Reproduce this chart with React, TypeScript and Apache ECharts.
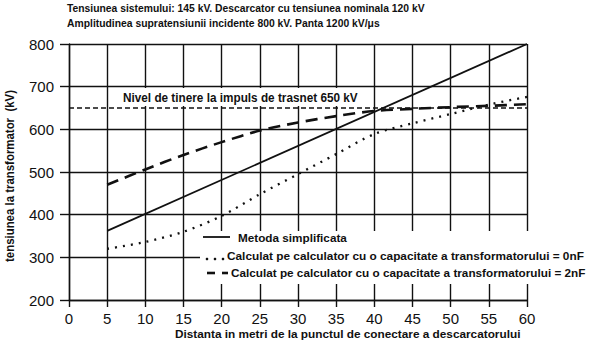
import React, { useEffect, useRef } from "react";
import * as echarts from "echarts";

const titleLines = [
  "Tensiunea sistemului: 145 kV. Descarcator cu tensiunea nominala 120 kV",
  "Amplitudinea supratensiunii incidente 800 kV. Panta 1200 kV/μs",
];
const xTicks = { min: 0, max: 60, interval: 5 };
const yTicks = { min: 200, max: 800, interval: 100 };
const xName = "Distanta in metri de la punctul de conectare a descarcatorului";
const yName = "tensiunea la transformator  (kV)";

const seriesNames = [
  "Metoda simplificata",
  "Calculat pe calculator cu o capacitate a transformatorului = 0nF",
  "Calculat pe calculator cu o capacitate a transformatorului = 2nF",
];

// Metoda simplificata (straight line)
const simpleX = [5, 60];
const simpleY = [362, 800];

const distances = [5, 10, 15, 20, 25, 30, 35, 40, 45, 50, 55, 60];
const calc0nF = [320, 336, 360, 397, 448, 495, 542, 589, 614, 636, 658, 676];
const calc2nF = [470, 506, 540, 570, 597, 616, 631, 643, 648, 652, 655, 659];

const thresholdX = [0, 60];
const thresholdValue = 650;
const thresholdLabel = "Nivel de tinere la impuls de trasnet 650 kV";

const FONT = "'Liberation Sans', Arial, sans-serif";
const INK = "#111";

function measure(text: string, size: number): number {
  const c = document.createElement("canvas").getContext("2d");
  if (!c) return text.length * size * 0.58;
  c.font = `bold ${size}px 'Liberation Sans', Arial, sans-serif`;
  return c.measureText(text).width;
}

function fitText(text: string, size: number, x: number, y: number, width: number, extra: any = {}) {
  const s = width / measure(text, size);
  return {
    type: "text",
    x,
    y,
    scaleX: s,
    z: 20,
    style: {
      text,
      fontFamily: FONT,
      fontWeight: "bold",
      fontSize: size,
      fill: INK,
      textAlign: "left",
      textVerticalAlign: "middle",
    },
    ...extra,
  };
}

export default function App() {
  const ref = useRef<HTMLDivElement>(null);
  useEffect(() => {
    if (!ref.current) return;
    const chart = echarts.init(ref.current, null, { renderer: "svg" });
    const pair = (xs: number[], ys: number[]) => xs.map((x, i) => [x, ys[i]]);

    const yNameEl: any = fitText(yName, 12.5, 10, 262, 172, { rotation: Math.PI / 2 });

    chart.setOption({
      animation: false,
      backgroundColor: "#ffffff",
      textStyle: { fontFamily: FONT },
      grid: { left: 69, top: 44, right: 65, bottom: 47, containLabel: false },
      xAxis: {
        type: "value",
        min: xTicks.min,
        max: xTicks.max,
        interval: xTicks.interval,
        axisLine: { show: true, lineStyle: { color: INK, width: 1.4 } },
        axisTick: { show: true, inside: false, length: 7, lineStyle: { color: INK, width: 1.4 } },
        axisLabel: { fontFamily: FONT, fontSize: 15, color: INK, margin: 11 },
        splitLine: { show: true, lineStyle: { color: INK, width: 1.4 } },
      },
      yAxis: {
        type: "value",
        min: yTicks.min,
        max: yTicks.max,
        interval: yTicks.interval,
        axisLine: { show: true, lineStyle: { color: INK, width: 1.4 } },
        axisTick: { show: true, inside: false, length: 9, lineStyle: { color: INK, width: 1.4 } },
        axisLabel: { fontFamily: FONT, fontSize: 15, color: INK, margin: 15 },
        splitLine: { show: true, lineStyle: { color: INK, width: 1.4 } },
      },
      series: [
        {
          name: "threshold",
          type: "line",
          data: thresholdX.map((x) => [x, thresholdValue]),
          symbol: "none",
          lineStyle: { color: INK, width: 1.4, type: [5, 3] },
          z: 3,
        },
        {
          name: seriesNames[0],
          type: "line",
          data: pair(simpleX, simpleY),
          symbol: "none",
          lineStyle: { color: INK, width: 1.8, type: "solid" },
          z: 3,
        },
        {
          name: seriesNames[1],
          type: "line",
          data: pair(distances, calc0nF),
          symbol: "none",
          smooth: 0.3,
          lineStyle: { color: INK, width: 2.3, type: [2, 6], cap: "butt" },
          z: 3,
        },
        {
          name: seriesNames[2],
          type: "line",
          data: pair(distances, calc2nF),
          symbol: "none",
          smooth: 0.3,
          lineStyle: { color: INK, width: 2.6, type: [12, 7] },
          z: 3,
        },
      ],
      graphic: [
        // titles
        fitText(titleLines[0], 11.5, 67, 8, 358),
        fitText(titleLines[1], 11.5, 67, 22.5, 313),
        // threshold label
        { type: "rect", shape: { x: 119, y: 88, width: 244, height: 18 }, style: { fill: "#ffffff" }, z: 10 },
        fitText(thresholdLabel, 12, 123, 98, 235),
        // legend box
        { type: "rect", shape: { x: 200, y: 231, width: 392, height: 53 }, style: { fill: "#ffffff" }, z: 10 },
        { type: "line", shape: { x1: 203, y1: 237, x2: 230, y2: 237 }, style: { stroke: INK, lineWidth: 1.8 }, z: 20 },
        fitText(seriesNames[0], 11.5, 238, 238, 109),
        { type: "circle", shape: { cx: 207, cy: 259, r: 1.3 }, style: { fill: INK }, z: 20 },
        { type: "circle", shape: { cx: 215, cy: 259, r: 1.3 }, style: { fill: INK }, z: 20 },
        { type: "circle", shape: { cx: 223, cy: 259, r: 1.3 }, style: { fill: INK }, z: 20 },
        fitText(seriesNames[1], 11.5, 227, 256, 357),
        { type: "line", shape: { x1: 207, y1: 273, x2: 215, y2: 273 }, style: { stroke: INK, lineWidth: 2.6 }, z: 20 },
        { type: "line", shape: { x1: 222, y1: 273, x2: 228, y2: 273 }, style: { stroke: INK, lineWidth: 2.6 }, z: 20 },
        fitText(seriesNames[2], 11.5, 231, 273, 355),
        // axis names
        fitText(xName, 11.5, 175, 334, 346),
        yNameEl,
      ],
    });
    return () => chart.dispose();
  }, []);
  return <div ref={ref} style={{ width: 592, height: 347, position: "absolute", left: 0, top: 0 }} />;
}
